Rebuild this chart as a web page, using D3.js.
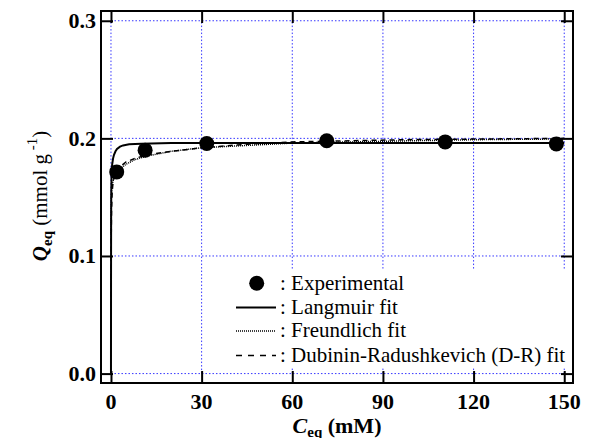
<!DOCTYPE html>
<html><head><meta charset="utf-8">
<script src="https://cdn.jsdelivr.net/npm/d3@7"></script>
</head>
<body style="margin:0"><svg id="c" width="590" height="438" font-family="Liberation Serif" style="font-family:'Liberation Serif'"></svg>
<script>
// Experimental data
const expC = [1.9, 11.3, 31.7, 71.4, 110.6, 147.4];
const expQ = [0.1715, 0.1900, 0.1956, 0.1980, 0.1970, 0.1953];
// Langmuir fit
const langC = [0, 0.02, 0.05, 0.1, 0.2, 0.4, 0.7, 1, 1.5, 2, 3, 4, 6, 10, 20, 50, 100, 150];
const langQ = [0, 0.08, 0.13, 0.155, 0.170, 0.178, 0.183, 0.186, 0.189, 0.191, 0.193, 0.194, 0.195, 0.1955, 0.196, 0.196, 0.196, 0.196];
// Freundlich fit
const frC = [0.02, 0.1, 0.3, 0.6, 1, 2, 3, 5, 8, 12, 20, 30, 45, 60, 80, 100, 125, 150];
const frQ = [0.118, 0.150, 0.158, 0.163, 0.166, 0.171, 0.174, 0.178, 0.182, 0.185, 0.189, 0.192, 0.194, 0.196, 0.197, 0.198, 0.199, 0.1995];
// Dubinin-Radushkevich fit
const drC = [0.02, 0.05, 0.1, 0.2, 0.4, 0.7, 1, 2, 3, 5, 8, 12, 20, 30, 45, 60, 80, 100, 125, 150];
const drQ = [0.05, 0.09, 0.12, 0.14, 0.155, 0.163, 0.167, 0.173, 0.176, 0.180, 0.183, 0.186, 0.189, 0.192, 0.195, 0.197, 0.198, 0.199, 0.1995, 0.2];
const xTicks = [0, 30, 60, 90, 120, 150];
const yTicks = [0.0, 0.1, 0.2, 0.3];
const legendLabels = [": Experimental", ": Langmuir fit", ": Freundlich fit", ": Dubinin-Radushkevich (D-R) fit"];

const FONT = "Liberation Serif";
const svg = d3.select("#c");
const L = 101, R = 573, T = 11, B = 383;
const x = d3.scaleLinear().domain([-3.3, 152.9]).range([L, R]);
const y = d3.scaleLinear().domain([-0.008, 0.3083]).range([B, T]);
const gridColor = "#3535ff";
const rows = [289.5, 313.5, 337, 361.5];

// grid
const g = svg.append("g");
g.selectAll("line.gx").data(xTicks).join("line").attr("class", "gx")
  .attr("x1", d => x(d)).attr("x2", d => x(d))
  .attr("y1", y(0)).attr("y2", y(0.3))
  .attr("stroke", gridColor).attr("stroke-width", 1).attr("stroke-dasharray", "1.5,2");
g.selectAll("line.gy").data(yTicks).join("line").attr("class", "gy")
  .attr("x1", x(0)).attr("x2", x(150))
  .attr("y1", d => y(d)).attr("y2", d => y(d))
  .attr("stroke", gridColor).attr("stroke-width", 1).attr("stroke-dasharray", "1.5,2");

// legend background (covers grid)
svg.append("rect").attr("x", 204).attr("y", 269).attr("width", 366).attr("height", 98).attr("fill", "#fff");

// curves
const line = d3.line().x(d => x(d[0])).y(d => y(d[1]));
const curves = [
  {c: langC, q: langQ, w: 2, dash: null},
  {c: frC, q: frQ, w: 1.5, dash: "1,1"},
  {c: drC, q: drQ, w: 1.5, dash: "5,4"}
];
curves.forEach(cv => {
  svg.append("path").datum(cv.c.map((c, i) => [c, cv.q[i]]))
    .attr("d", line).attr("fill", "none").attr("stroke", "#000")
    .attr("stroke-width", cv.w).attr("stroke-dasharray", cv.dash);
});

// points
svg.selectAll("circle.pt").data(expC).join("circle").attr("class", "pt")
  .attr("cx", d => x(d)).attr("cy", (d, i) => y(expQ[i])).attr("r", 7.5).attr("fill", "#000");

// ticks inward on all sides
const tl = 12;
const axB = d3.axisBottom(x).tickValues(xTicks).tickSize(-tl).tickFormat("");
const axT = d3.axisTop(x).tickValues(xTicks).tickSize(-tl).tickFormat("");
const axL = d3.axisLeft(y).tickValues(yTicks).tickSize(-tl).tickFormat("");
const axR = d3.axisRight(y).tickValues(yTicks).tickSize(-tl).tickFormat("");
function style(sel) {
  sel.attr("font-family", null).attr("font-size", null);
  sel.select(".domain").remove();
  sel.selectAll(".tick text").remove();
  sel.selectAll(".tick line").attr("stroke", "#000").attr("stroke-width", 2);
}
svg.append("g").attr("transform", `translate(0,${B})`).call(axB).call(style);
svg.append("g").attr("transform", `translate(0,${T})`).call(axT).call(style);
svg.append("g").attr("transform", `translate(${L},0)`).call(axL).call(style);
svg.append("g").attr("transform", `translate(${R},0)`).call(axR).call(style);

// frame
svg.append("rect").attr("x", L).attr("y", T).attr("width", R - L).attr("height", B - T)
  .attr("fill", "none").attr("stroke", "#000").attr("stroke-width", 2);

// tick labels
const fx = d3.format("d"), fy = d3.format(".1f");
svg.selectAll("text.xl").data(xTicks).join("text").attr("class", "xl")
  .attr("x", d => x(d)).attr("y", 409).attr("text-anchor", "middle")
  .attr("font-family", FONT).attr("font-size", "22px").attr("font-weight", "bold").text(d => fx(d));
svg.selectAll("text.yl").data(yTicks).join("text").attr("class", "yl")
  .attr("x", 96).attr("y", d => y(d) + 7.5).attr("text-anchor", "end")
  .attr("font-family", FONT).attr("font-size", "22px").attr("font-weight", "bold").text(d => fy(d));

// legend
svg.append("circle").attr("cx", 256.7).attr("cy", 283.3).attr("r", 7.5).attr("fill", "#000");
[null, "1,1", "6,6"].forEach((dash, i) => {
  svg.append("line").attr("x1", 236).attr("x2", 276).attr("y1", rows[i + 1] - 6).attr("y2", rows[i + 1] - 6)
    .attr("stroke", "#000").attr("stroke-width", i === 0 ? 2 : 1.5).attr("stroke-dasharray", dash);
});
svg.selectAll("text.lt").data(legendLabels).join("text").attr("class", "lt")
  .attr("x", 280).attr("y", (d, i) => rows[i]).attr("font-family", FONT).attr("font-size", "21px").text(d => d);

// axis titles
const xt = svg.append("text").attr("x", 337).attr("y", 433).attr("text-anchor", "middle")
  .attr("font-family", FONT).attr("font-weight", "bold").attr("font-size", "22px");
xt.append("tspan").attr("font-style", "italic").text("C");
xt.append("tspan").attr("font-size", "15px").attr("dy", 4).text("eq");
xt.append("tspan").attr("dy", -4).text(" (mM)");

const yt = svg.append("text").attr("transform", "translate(47,196) rotate(-90)").attr("text-anchor", "middle")
  .attr("font-family", FONT).attr("font-size", "21px");
yt.append("tspan").attr("font-style", "italic").attr("font-weight", "bold").text("Q");
yt.append("tspan").attr("font-size", "15px").attr("font-weight", "bold").attr("dy", 5).text("eq");
yt.append("tspan").attr("dy", -5).text(" (mmol g");
yt.append("tspan").attr("font-size", "15px").attr("dy", -10).text(" -1");
yt.append("tspan").attr("dy", 10).text(")");
</script></body></html>
